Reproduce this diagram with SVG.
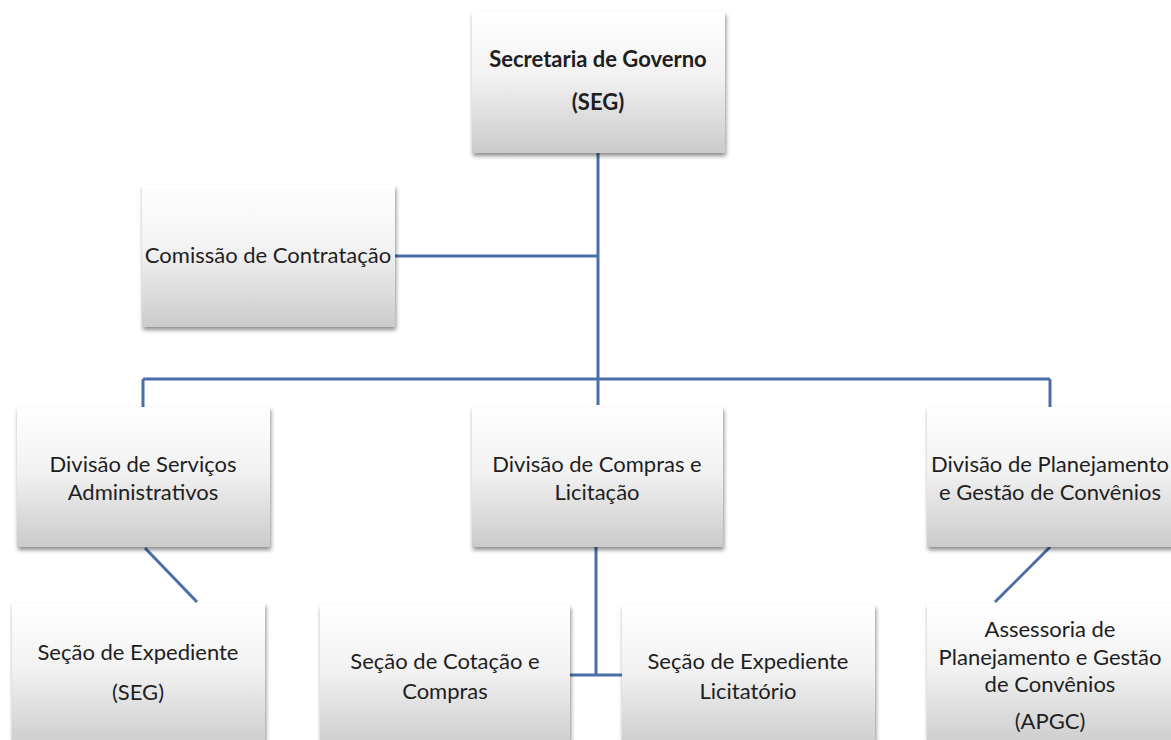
<svg xmlns="http://www.w3.org/2000/svg" width="1171" height="740" viewBox="0 0 1171 740">
<defs>
<linearGradient id="g" x1="0" y1="0" x2="0" y2="1">
<stop offset="0" stop-color="#ffffff"/>
<stop offset="0.45" stop-color="#f2f2f2"/>
<stop offset="1" stop-color="#cbcbcb"/>
</linearGradient>
<filter id="sh" x="-10%" y="-10%" width="125%" height="130%">
<feDropShadow dx="1" dy="3" stdDeviation="2" flood-color="#000" flood-opacity="0.45"/>
</filter>
</defs>
<style>
.box{fill:url(#g);filter:url(#sh)}
.t{font-family:Lato,"Liberation Sans",sans-serif;font-size:22px;fill:#1e1e1e;text-anchor:middle}
.b{font-weight:bold}
.c{stroke:#4a6ea8;stroke-width:3;fill:none}
</style>
<rect width="1171" height="740" fill="#fff"/>
<g id="connectors">
<path class="c" d="M598 153V405"/>
<path class="c" d="M395 256H598"/>
<path class="c" d="M143 379H1050"/>
<path class="c" d="M143 379V407"/>
<path class="c" d="M1050 379V407"/>
<path class="c" d="M145 548L197 602"/>
<path class="c" d="M596 547V675"/>
<path class="c" d="M570 675H622"/>
<path class="c" d="M1050 547L995 602"/>
</g>
<g id="seg">
<rect class="box" x="472" y="12" width="253" height="141"/>
<text class="t b" x="598" y="67">Secretaria de Governo</text>
<text class="t b" x="598" y="110">(SEG)</text>
</g>
<g id="comissao">
<rect class="box" x="142" y="185" width="253" height="142"/>
<text class="t" x="268" y="263">Comissão de Contratação</text>
</g>
<g id="dsa">
<rect class="box" x="17" y="407" width="253" height="140"/>
<text class="t" x="143" y="472">Divisão de Serviços</text>
<text class="t" x="143" y="500">Administrativos</text>
</g>
<g id="dcl">
<rect class="box" x="472" y="407" width="251" height="140"/>
<text class="t" x="597" y="472">Divisão de Compras e</text>
<text class="t" x="597" y="500">Licitação</text>
</g>
<g id="dpgc">
<rect class="box" x="927" y="407" width="253" height="140"/>
<text class="t" x="1050" y="472">Divisão de Planejamento</text>
<text class="t" x="1050" y="500">e Gestão de Convênios</text>
</g>
<g id="se">
<rect class="box" x="12" y="603" width="253" height="145"/>
<text class="t" x="138" y="660">Seção de Expediente</text>
<text class="t" x="138" y="700">(SEG)</text>
</g>
<g id="scc">
<rect class="box" x="320" y="605" width="250" height="145"/>
<text class="t" x="445" y="669">Seção de Cotação e</text>
<text class="t" x="445" y="699">Compras</text>
</g>
<g id="sel">
<rect class="box" x="622" y="605" width="253" height="145"/>
<text class="t" x="748" y="669">Seção de Expediente</text>
<text class="t" x="748" y="699">Licitatório</text>
</g>
<g id="apgc">
<rect class="box" x="927" y="603" width="253" height="145"/>
<text class="t" x="1050" y="637">Assessoria de</text>
<text class="t" x="1050" y="665">Planejamento e Gestão</text>
<text class="t" x="1050" y="692">de Convênios</text>
<text class="t" x="1050" y="729">(APGC)</text>
</g>
</svg>
